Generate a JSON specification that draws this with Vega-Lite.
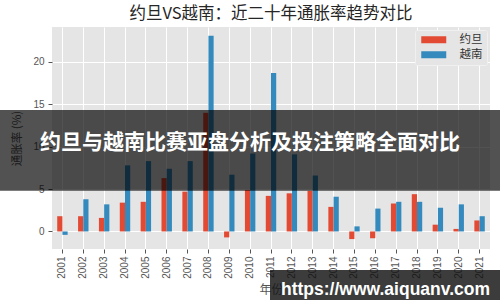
{
  "$schema": "https://vega.github.io/schema/vega-lite/v6.json",
  "width": 438,
  "height": 222,
  "autosize": {"type": "none"},
  "padding": {"left": 52, "top": 27, "right": 10, "bottom": 51},
  "background": "white",
  "title": {"text": "约旦VS越南：近二十年通胀率趋势对比", "fontSize": 16.5, "font": "Noto Sans CJK SC", "fontWeight": "normal", "color": "#262626", "offset": 5, "anchor": "middle"},
  "config": {
    "view": {"fill": "#E5E5E5", "stroke": null},
    "axis": {"grid": true, "gridColor": "#FFFFFF", "gridWidth": 1, "domain": false, "tickColor": "#555555", "tickSize": 4, "labelColor": "#555555", "labelFont": "Liberation Sans", "labelFontSize": 10, "titleColor": "#555555", "titleFont": "Noto Sans CJK SC", "titleFontSize": 11.5, "titleFontWeight": "normal"}
  },
  "datasets": {
    "rates": [
      {"year": "2001", "country": "约旦", "rate": 1.8}, {"year": "2001", "country": "越南", "rate": -0.4},
      {"year": "2002", "country": "约旦", "rate": 1.8}, {"year": "2002", "country": "越南", "rate": 3.8},
      {"year": "2003", "country": "约旦", "rate": 1.6}, {"year": "2003", "country": "越南", "rate": 3.2},
      {"year": "2004", "country": "约旦", "rate": 3.4}, {"year": "2004", "country": "越南", "rate": 7.8},
      {"year": "2005", "country": "约旦", "rate": 3.5}, {"year": "2005", "country": "越南", "rate": 8.3},
      {"year": "2006", "country": "约旦", "rate": 6.3}, {"year": "2006", "country": "越南", "rate": 7.4},
      {"year": "2007", "country": "约旦", "rate": 4.7}, {"year": "2007", "country": "越南", "rate": 8.3},
      {"year": "2008", "country": "约旦", "rate": 14.0}, {"year": "2008", "country": "越南", "rate": 23.1},
      {"year": "2009", "country": "约旦", "rate": -0.7}, {"year": "2009", "country": "越南", "rate": 6.7},
      {"year": "2010", "country": "约旦", "rate": 4.9}, {"year": "2010", "country": "越南", "rate": 9.2},
      {"year": "2011", "country": "约旦", "rate": 4.2}, {"year": "2011", "country": "越南", "rate": 18.7},
      {"year": "2012", "country": "约旦", "rate": 4.5}, {"year": "2012", "country": "越南", "rate": 9.1},
      {"year": "2013", "country": "约旦", "rate": 4.8}, {"year": "2013", "country": "越南", "rate": 6.6},
      {"year": "2014", "country": "约旦", "rate": 2.9}, {"year": "2014", "country": "越南", "rate": 4.1},
      {"year": "2015", "country": "约旦", "rate": -0.9}, {"year": "2015", "country": "越南", "rate": 0.6},
      {"year": "2016", "country": "约旦", "rate": -0.8}, {"year": "2016", "country": "越南", "rate": 2.7},
      {"year": "2017", "country": "约旦", "rate": 3.3}, {"year": "2017", "country": "越南", "rate": 3.5},
      {"year": "2018", "country": "约旦", "rate": 4.4}, {"year": "2018", "country": "越南", "rate": 3.5},
      {"year": "2019", "country": "约旦", "rate": 0.8}, {"year": "2019", "country": "越南", "rate": 2.8},
      {"year": "2020", "country": "约旦", "rate": 0.3}, {"year": "2020", "country": "越南", "rate": 3.2},
      {"year": "2021", "country": "约旦", "rate": 1.3}, {"year": "2021", "country": "越南", "rate": 1.8}
    ],
    "banner": [{"label": "约旦与越南比赛亚盘分析及投注策略全面对比", "top": 14.34, "bottom": 4.81, "mid": 10.44}],
    "watermark": [{"label": "https://www.aiquanv.com", "top": -4.54, "bottom": -8.1, "mid": -6.95}]
  },
  "layer": [
    {
      "data": {"name": "rates"},
      "mark": {"type": "bar"},
      "encoding": {
        "x": {"field": "year", "type": "ordinal", "scale": {"paddingInner": 0.5, "paddingOuter": 0.25}, "axis": {"title": "年份", "labelAngle": -90, "bandPosition": 0.5, "labelPadding": 3, "titlePadding": 6, "titleFontSize": 12}},
        "xOffset": {"field": "country", "type": "nominal", "sort": ["约旦", "越南"]},
        "y": {"field": "rate", "type": "quantitative", "scale": {"domain": [-2.07, 24.13], "nice": false, "zero": false}, "axis": {"title": "通胀率 (%)", "values": [0, 5, 10, 15, 20], "labelPadding": 4, "titlePadding": 10}},
        "color": {"field": "country", "type": "nominal", "scale": {"domain": ["约旦", "越南"], "range": ["#E24A33", "#348ABD"]},
          "legend": {"title": null, "orient": "top-right", "offset": 3, "fillColor": "#E5E5E5", "strokeColor": "#F0F0F0", "padding": 4, "cornerRadius": 2, "symbolType": "M-1,-1 L6.14,-1 L6.14,1 L-1,1 Z", "symbolSize": 49, "symbolStrokeWidth": 0, "symbolOpacity": 1, "labelOffset": 29, "labelFont": "Noto Sans CJK SC", "labelFontSize": 11.5, "labelColor": "#333333", "rowPadding": 2}}
      }
    },
    {
      "data": {"name": "banner"},
      "mark": {"type": "rect", "fill": "#000000", "fillOpacity": 0.68},
      "encoding": {
        "x": {"value": -52},
        "x2": {"value": 448},
        "y": {"field": "top", "type": "quantitative"},
        "y2": {"field": "bottom"}
      }
    },
    {
      "data": {"name": "banner"},
      "mark": {"type": "text", "color": "#FFFFFF", "font": "Noto Sans CJK SC", "fontWeight": "bold", "fontSize": 21, "align": "center", "baseline": "middle"},
      "encoding": {
        "x": {"value": 198},
        "y": {"field": "mid", "type": "quantitative"},
        "text": {"field": "label"}
      }
    },
    {
      "data": {"name": "watermark"},
      "mark": {"type": "rect", "fill": "#111111", "fillOpacity": 0.82},
      "encoding": {
        "x": {"value": 218},
        "x2": {"value": 448},
        "y": {"field": "top", "type": "quantitative"},
        "y2": {"field": "bottom"}
      }
    },
    {
      "data": {"name": "watermark"},
      "mark": {"type": "text", "color": "#FFFFFF", "font": "Liberation Sans", "fontWeight": "bold", "fontSize": 17.5, "align": "center", "baseline": "middle"},
      "encoding": {
        "x": {"value": 333.5},
        "y": {"field": "mid", "type": "quantitative"},
        "text": {"field": "label"}
      }
    }
  ]
}
